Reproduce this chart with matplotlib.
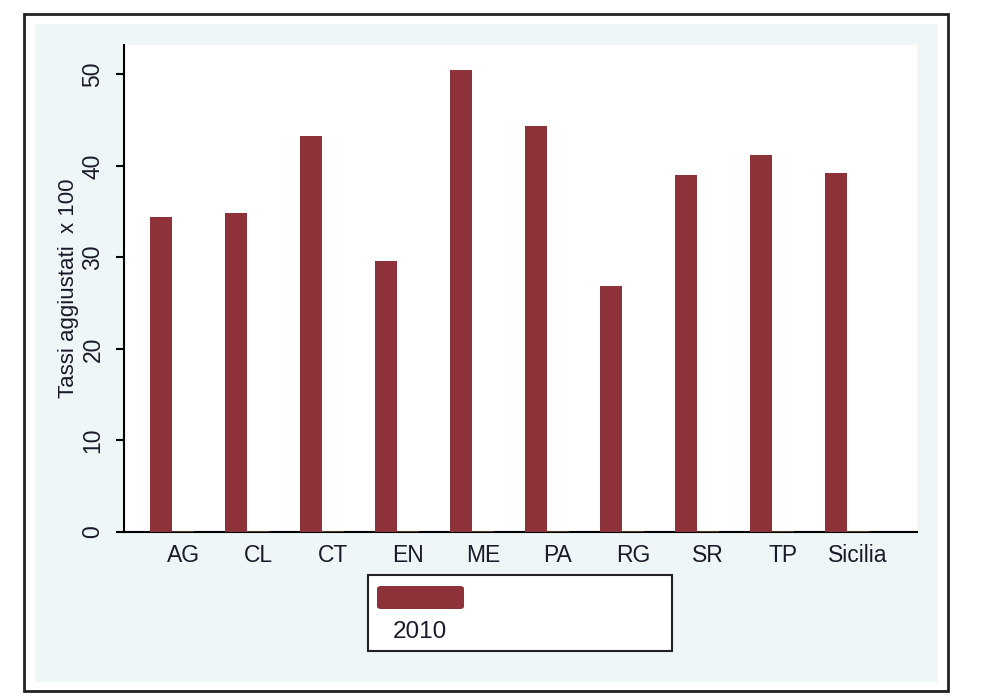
import matplotlib
matplotlib.use('Agg')
from matplotlib import pyplot as plt
from matplotlib.patches import Rectangle, FancyBboxPatch
import numpy as np

# dati
province = ['AG', 'CL', 'CT', 'EN', 'ME', 'PA', 'RG', 'SR', 'TP', 'Sicilia']
tassi_2010 = [34.4, 34.8, 43.3, 29.6, 50.5, 44.4, 26.9, 39.0, 41.2, 39.2]
tassi_altro = [0, 0, 0, 0, 0, 0, 0, 0, 0, 0]
y_ticks = [0, 10, 20, 30, 40, 50]

plt.rcParams['font.family'] = ['Liberation Sans', 'DejaVu Sans']

W, H = 988, 697
fig = plt.figure(figsize=(W / 100, H / 100), dpi=100)
fig.patch.set_facecolor('white')


def px(x0, y0, x1, y1):
    # pixel box -> figure coords (left, bottom, width, height)
    return x0 / W, 1 - y1 / H, (x1 - x0) / W, (y1 - y0) / H


# sfondo e cornice
l, b, w, h = px(35, 24, 938, 682)
fig.patches.append(Rectangle((l, b), w, h, transform=fig.transFigure,
                             facecolor='#EEF6F7', edgecolor='none', zorder=-1))
l, b, w, h = px(24, 14, 948, 691)
fig.patches.append(Rectangle((l, b), w, h, transform=fig.transFigure,
                             facecolor='none', edgecolor='#222222', lw=2, zorder=5))

ax = fig.add_axes(px(124, 45, 917, 532))
ax.set_facecolor('white')

x = np.arange(len(province))
bw = 0.293
ax.bar(x - bw, tassi_2010, width=bw, color='#8E3239', zorder=3)
ax.bar(x, tassi_altro, width=bw, color='#5A4A2A', edgecolor='#5A4A2A',
       lw=1.2, zorder=3)

ax.set_xlim(-0.787, 9.787)
ax.set_ylim(0, 53.2)

for s in ['top', 'right']:
    ax.spines[s].set_visible(False)
ax.spines['left'].set_linewidth(1.5)
ax.spines['bottom'].set_linewidth(1.5)

ax.set_xticks(x)
ax.set_xticklabels(province, fontsize=16.5, color='#1a1a2a')
ax.tick_params(axis='x', length=0, pad=9)
ax.set_yticks(y_ticks)
ax.set_yticklabels([str(v) for v in y_ticks], rotation=90, va='center',
                   fontsize=16.5, color='#1a1a2a')
ax.tick_params(axis='y', length=6, width=1.5, pad=8)
ax.set_ylabel('Tassi aggiustati  x 100', fontsize=16, color='#1a1a2a')
ax.yaxis.set_label_coords(-0.057, 0.5)

# legenda
l, b, w, h = px(368, 575, 672, 651)
fig.patches.append(Rectangle((l, b), w, h, transform=fig.transFigure,
                             facecolor='white', edgecolor='#222222', lw=1.5, zorder=4))
l, b, w, h = px(377, 586, 464, 609)
fig.patches.append(FancyBboxPatch((l, b), w, h, transform=fig.transFigure,
                                  boxstyle='round,pad=0,rounding_size=0.004',
                                  facecolor='#8E3239', edgecolor='none', zorder=5))
fig.text(393 / W, 1 - 632 / H, '2010', fontsize=17.5, va='center', ha='left',
         color='#1a1a2a', zorder=6)

plt.savefig('out.png', dpi=100)
